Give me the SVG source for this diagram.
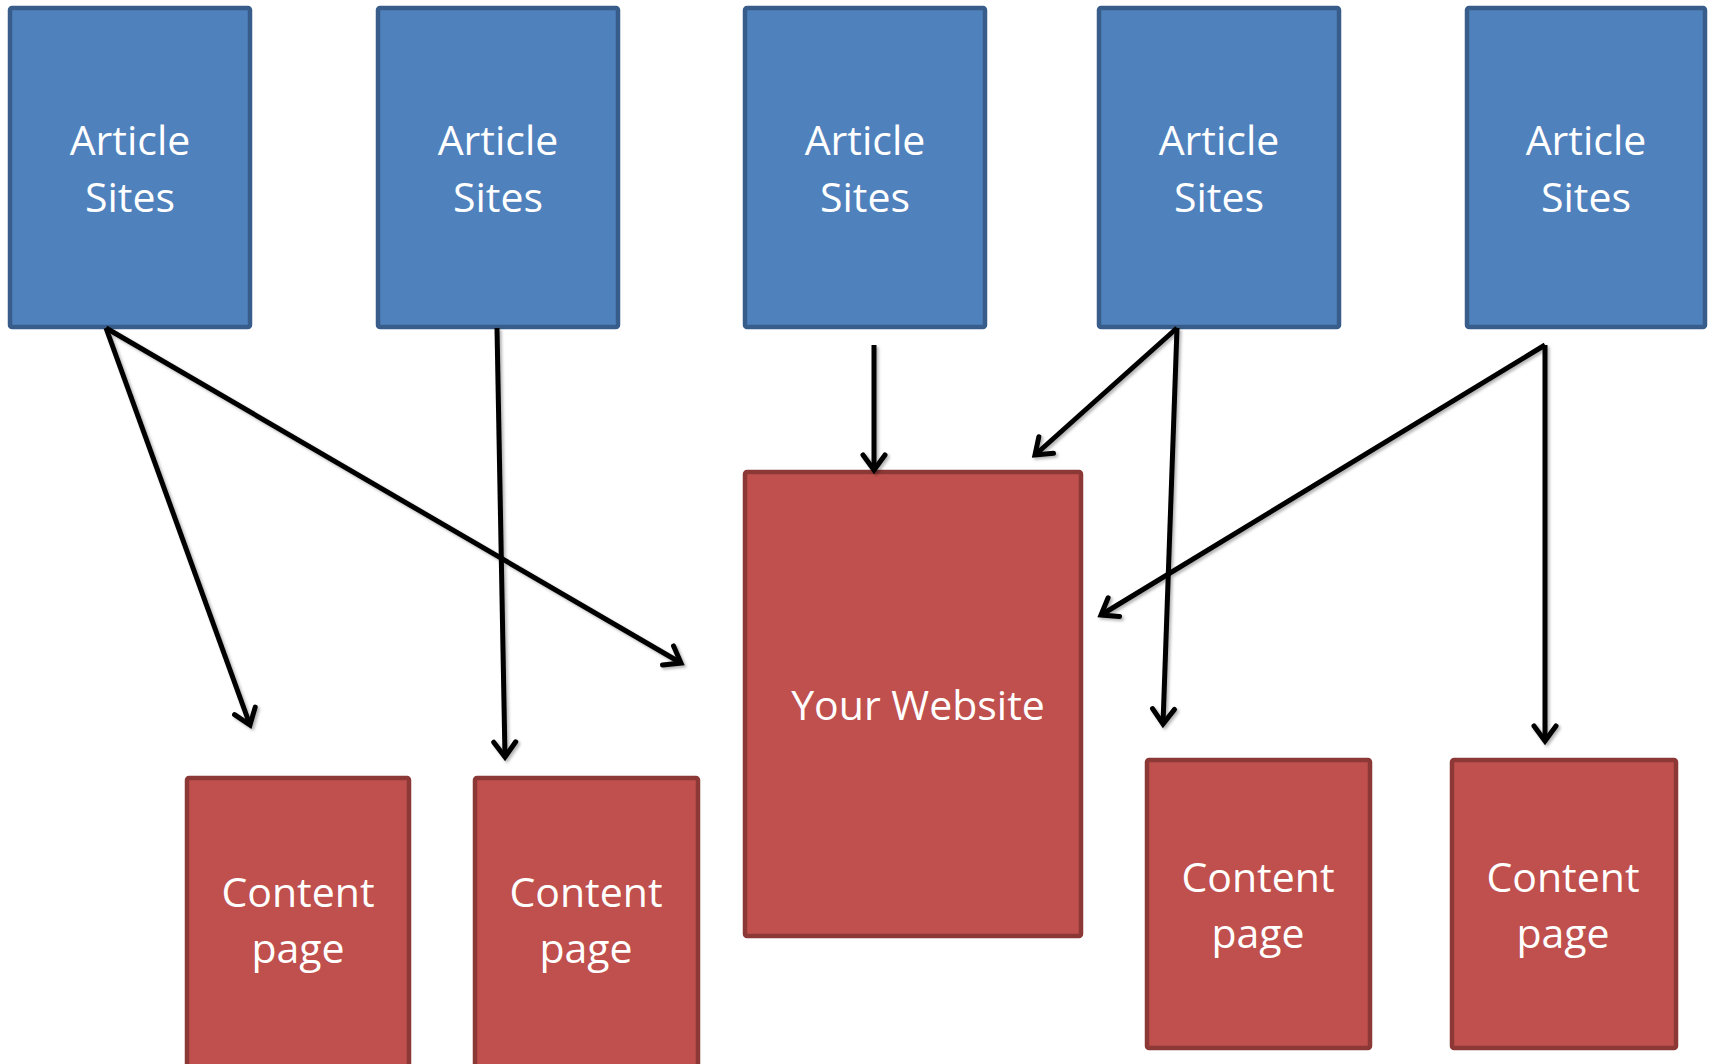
<svg xmlns="http://www.w3.org/2000/svg" width="1713" height="1064" viewBox="0 0 1713 1064">
<defs>
<style>
.blue{fill:#4F81BD;stroke:#385D8A;stroke-width:4.5}
.red{fill:#C0504D;stroke:#8C3836;stroke-width:4.5}
.lbl{font-family:"Open Sans","Noto Sans",sans-serif;font-size:41px;fill:#FFFFFF;text-anchor:middle}
.conn{stroke:#000;stroke-width:5;fill:none;marker-end:url(#ah)}
</style>
<marker id="ah" markerUnits="userSpaceOnUse" markerWidth="30" markerHeight="30" viewBox="-20 -15 24 30" refX="0" refY="0" orient="auto">
<path d="M-15,-11 L0,0 L-15,11" fill="none" stroke="#000" stroke-width="5" stroke-linecap="round" stroke-linejoin="miter"/>
</marker>
<filter id="sh" x="-10%" y="-10%" width="120%" height="120%">
<feDropShadow dx="2" dy="2" stdDeviation="1.5" flood-color="#000" flood-opacity="0.3"/>
</filter>
</defs>
<rect width="1713" height="1064" fill="#FFFFFF"/>
<g id="article1"><rect class="blue" x="10" y="8" width="240" height="319" rx="2"/><text class="lbl" x="130" y="155">Article</text><text class="lbl" x="130" y="212">Sites</text></g>
<g id="article2"><rect class="blue" x="378" y="8" width="240" height="319" rx="2"/><text class="lbl" x="498" y="155">Article</text><text class="lbl" x="498" y="212">Sites</text></g>
<g id="article3"><rect class="blue" x="745" y="8" width="240" height="319" rx="2"/><text class="lbl" x="865" y="155">Article</text><text class="lbl" x="865" y="212">Sites</text></g>
<g id="article4"><rect class="blue" x="1099" y="8" width="240" height="319" rx="2"/><text class="lbl" x="1219" y="155">Article</text><text class="lbl" x="1219" y="212">Sites</text></g>
<g id="article5"><rect class="blue" x="1467" y="8" width="238" height="319" rx="2"/><text class="lbl" x="1586" y="155">Article</text><text class="lbl" x="1586" y="212">Sites</text></g>
<g id="website"><rect class="red" x="745" y="472" width="336" height="464" rx="2"/><text class="lbl" x="918" y="720">Your Website</text></g>
<g id="content1"><rect class="red" x="187" y="778" width="222" height="300" rx="2"/><text class="lbl" x="298" y="907">Content</text><text class="lbl" x="298" y="963">page</text></g>
<g id="content2"><rect class="red" x="475" y="778" width="223" height="300" rx="2"/><text class="lbl" x="586" y="907">Content</text><text class="lbl" x="586" y="963">page</text></g>
<g id="content3"><rect class="red" x="1147" y="760" width="223" height="288" rx="2"/><text class="lbl" x="1258" y="892">Content</text><text class="lbl" x="1258" y="948">page</text></g>
<g id="content4"><rect class="red" x="1452" y="760" width="224" height="288" rx="2"/><text class="lbl" x="1563" y="892">Content</text><text class="lbl" x="1563" y="948">page</text></g>
<g id="connectors" filter="url(#sh)">
<line class="conn" x1="106" y1="328" x2="250" y2="725"/>
<line class="conn" x1="106" y1="328" x2="681" y2="663"/>
<line class="conn" x1="497" y1="328" x2="505" y2="757"/>
<line class="conn" x1="874" y1="345" x2="874" y2="470"/>
<line class="conn" x1="1177" y1="328" x2="1035" y2="455"/>
<line class="conn" x1="1177" y1="328" x2="1163" y2="724"/>
<line class="conn" x1="1545" y1="345" x2="1101" y2="615"/>
<line class="conn" x1="1545" y1="345" x2="1545" y2="741"/>
</g>
</svg>
